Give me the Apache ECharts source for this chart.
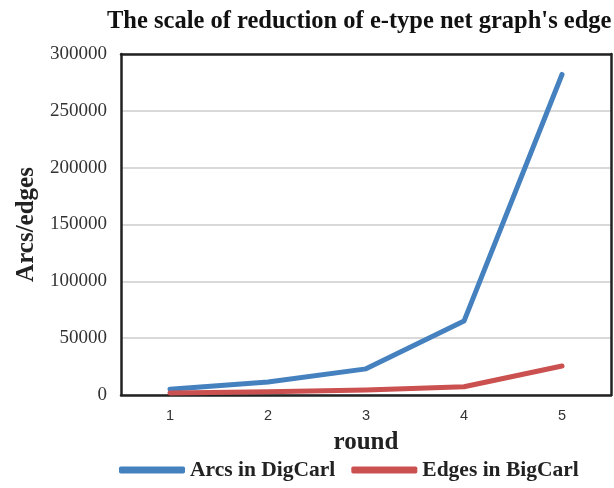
<!DOCTYPE html>
<html>
<head>
<meta charset="utf-8">
<script src="https://cdn.jsdelivr.net/npm/echarts@6/dist/echarts.min.js"></script>
<style>
  html, body { margin: 0; padding: 0; background: #fff; }
  #chart { width: 614px; height: 488px; }
</style>
</head>
<body>
<div id="chart"></div>
<script>
const rounds = ['1', '2', '3', '4', '5']
const arcsDigCarl = [5000, 11500, 23000, 65000, 282000]
const edgesBigCarl = [1800, 2800, 4400, 7200, 25500]
const yTicks = [0, 50000, 100000, 150000, 200000, 250000, 300000]

const serif = '"Liberation Serif", "Times New Roman", serif'
const boxLine = { show: true, onZero: false, lineStyle: { color: '#222', width: 2.5 } }
const myChart = echarts.init(document.getElementById('chart'))

const option = {
  backgroundColor: '#fff',
  animation: false,
  title: {
    text: "The scale of reduction of e-type net graph's edge",
    left: 102,
    top: 4,
    textStyle: { fontFamily: serif, fontWeight: 'bold', fontSize: 24.5, color: '#111' },
  },
  grid: { left: 121, right: 3, top: 54, bottom: 93, containLabel: false, outerBoundsMode: 'none' },
  legend: {
    bottom: 2,
    left: 114,
    itemGap: 16,
    itemWidth: 66,
    itemHeight: 7,
    icon: 'roundRect',
    textStyle: { fontFamily: serif, fontWeight: 'bold', fontSize: 21.5, color: '#222' },
    data: ['Arcs in DigCarl', 'Edges in BigCarl'],
  },
  xAxis: [
    {
      type: 'category',
      data: rounds,
      name: 'round',
      nameLocation: 'middle',
      nameGap: 35,
      nameTextStyle: { fontFamily: serif, fontWeight: 'bold', fontSize: 25, color: '#222' },
      axisTick: { show: false },
      axisLine: boxLine,
      axisLabel: { fontFamily: '"Liberation Sans", Arial, sans-serif', fontSize: 14.5, color: '#333', margin: 13 },
    },
    {
      type: 'category',
      data: rounds,
      position: 'top',
      axisTick: { show: false },
      axisLabel: { show: false },
      axisLine: boxLine,
    },
  ],
  yAxis: [
    {
      type: 'value',
      min: yTicks[0],
      max: yTicks[yTicks.length - 1],
      interval: 50000,
      name: 'Arcs/edges',
      nameLocation: 'middle',
      nameGap: 80,
      nameTextStyle: { fontFamily: serif, fontWeight: 'bold', fontSize: 25, color: '#222' },
      axisLine: boxLine,
      axisTick: { show: false },
      axisLabel: { fontFamily: serif, fontSize: 19, color: '#333', margin: 14, formatter: (v) => String(v) },
      splitLine: { lineStyle: { color: '#d9d9d9', width: 2 } },
    },
    {
      type: 'value',
      position: 'right',
      min: yTicks[0],
      max: yTicks[yTicks.length - 1],
      interval: 50000,
      axisLine: boxLine,
      axisTick: { show: false },
      axisLabel: { show: false },
      splitLine: { show: false },
    },
  ],
  series: [
    {
      name: 'Arcs in DigCarl',
      type: 'line',
      data: arcsDigCarl,
      symbol: 'none',
      color: '#4581bf',
      lineStyle: { width: 5, cap: 'round', join: 'round' },
      z: 3,
    },
    {
      name: 'Edges in BigCarl',
      type: 'line',
      data: edgesBigCarl,
      symbol: 'none',
      color: '#cb5050',
      lineStyle: { width: 5, cap: 'round', join: 'round' },
      z: 4,
    },
  ],
}

myChart.setOption(option)
</script>
</body>
</html>
